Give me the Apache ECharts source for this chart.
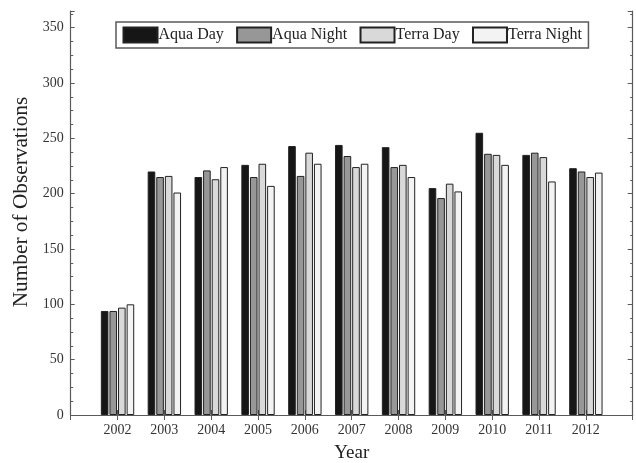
<!DOCTYPE html>
<html>
<head>
<meta charset="utf-8">
<script src="https://cdn.jsdelivr.net/npm/echarts@6/dist/echarts.min.js"></script>
<style>html,body{margin:0;padding:0;background:#fff}#c{width:636px;height:463px}</style>
</head>
<body>
<div id="c"></div>
<script>
const years = ['2002','2003','2004','2005','2006','2007','2008','2009','2010','2011','2012'];
const aquaDay   = [94, 220, 215, 226, 243, 244, 242, 205, 255, 235, 223];
const aquaNight = [94, 215, 221, 215, 216, 234, 224, 196, 236, 237, 220];
const terraDay  = [97, 216, 213, 227, 237, 224, 226, 209, 235, 233, 215];
const terraNight= [100, 201, 224, 207, 227, 227, 215, 202, 226, 211, 219];
const yTicks = [0, 50, 100, 150, 200, 250, 300, 350];

const axisCats = [''].concat(years, ['']);
const serifFont = 'Liberation Serif';
const lineCol = '#5a5a5a';

const chart = echarts.init(document.getElementById('c'), null, {renderer: 'canvas'});
function bar(name, data, color) {
  return {
    name: name, type: 'bar', data: [null].concat(data, [null]),
    barWidth: 7.6, barGap: '13%',
    itemStyle: {color: color, borderColor: '#222', borderWidth: 1},
    emphasis: {disabled: true}
  };
}
chart.setOption({
  animation: false,
  backgroundColor: '#fff',
  grid: {left: 70.7, right: 3.3, top: 11, bottom: 48, containLabel: false, outerBoundsMode: 'none'},
  legend: {
    left: 116, top: 22, padding: [4.5, 6.5], itemGap: 12.3,
    itemWidth: 34, itemHeight: 15, icon: 'rect',
    borderColor: lineCol, borderWidth: 1.5, backgroundColor: '#fff',
    textStyle: {fontFamily: serifFont, fontSize: 16, color: '#222', padding: [0,0,0,-4]},
    data: ['Aqua Day', 'Aqua Night', 'Terra Day', 'Terra Night']
  },
  xAxis: [{
    type: 'category', data: axisCats, boundaryGap: false, position: 'bottom',
    name: 'Year', nameLocation: 'middle', nameGap: 29,
    nameTextStyle: {fontFamily: serifFont, fontSize: 19, color: '#222'},
    axisLine: {show: true, lineStyle: {color: '#333', width: 1}},
    axisTick: {show: true, inside: true, length: 5, lineStyle: {color: lineCol}},
    axisLabel: {fontFamily: serifFont, fontSize: 14, color: '#333', margin: 8,
      formatter: v => v},
    splitLine: {show: false}
  }, {
    type: 'category', data: axisCats, boundaryGap: false, position: 'top',
    axisLine: {show: true, lineStyle: {color: lineCol, width: 1.2}},
    axisTick: {show: true, inside: true, length: 5, lineStyle: {color: lineCol}},
    axisLabel: {show: false}, splitLine: {show: false}
  }],
  yAxis: [{
    type: 'value', min: 0, max: 365, interval: 50, position: 'left',
    name: 'Number of Observations', nameLocation: 'middle', nameGap: 37,
    nameTextStyle: {fontFamily: serifFont, fontSize: 21.3, color: '#222', padding: [0,0,0,22]},
    axisLine: {show: true, lineStyle: {color: lineCol, width: 1.2}},
    axisTick: {show: true, inside: true, length: 4, lineStyle: {color: lineCol}},
    minorTick: {show: true, splitNumber: 4, length: 2.5, lineStyle: {color: lineCol}},
    axisLabel: {fontFamily: serifFont, fontSize: 14, color: '#333', margin: 7,
      formatter: v => (yTicks.indexOf(v) >= 0 ? String(v) : '')},
    splitLine: {show: false}
  }, {
    type: 'value', min: 0, max: 365, interval: 50, position: 'right',
    axisLine: {show: true, lineStyle: {color: lineCol, width: 1.2}},
    axisTick: {show: true, inside: true, length: 5, lineStyle: {color: lineCol}},
    minorTick: {show: true, splitNumber: 4, length: 2.5, lineStyle: {color: lineCol}},
    axisLabel: {show: false}, splitLine: {show: false}
  }],
  series: [
    bar('Aqua Day', aquaDay, '#161616'),
    bar('Aqua Night', aquaNight, '#979797'),
    bar('Terra Day', terraDay, '#d9d9d9'),
    bar('Terra Night', terraNight, '#f3f3f3')
  ]
});
</script>
</body>
</html>
